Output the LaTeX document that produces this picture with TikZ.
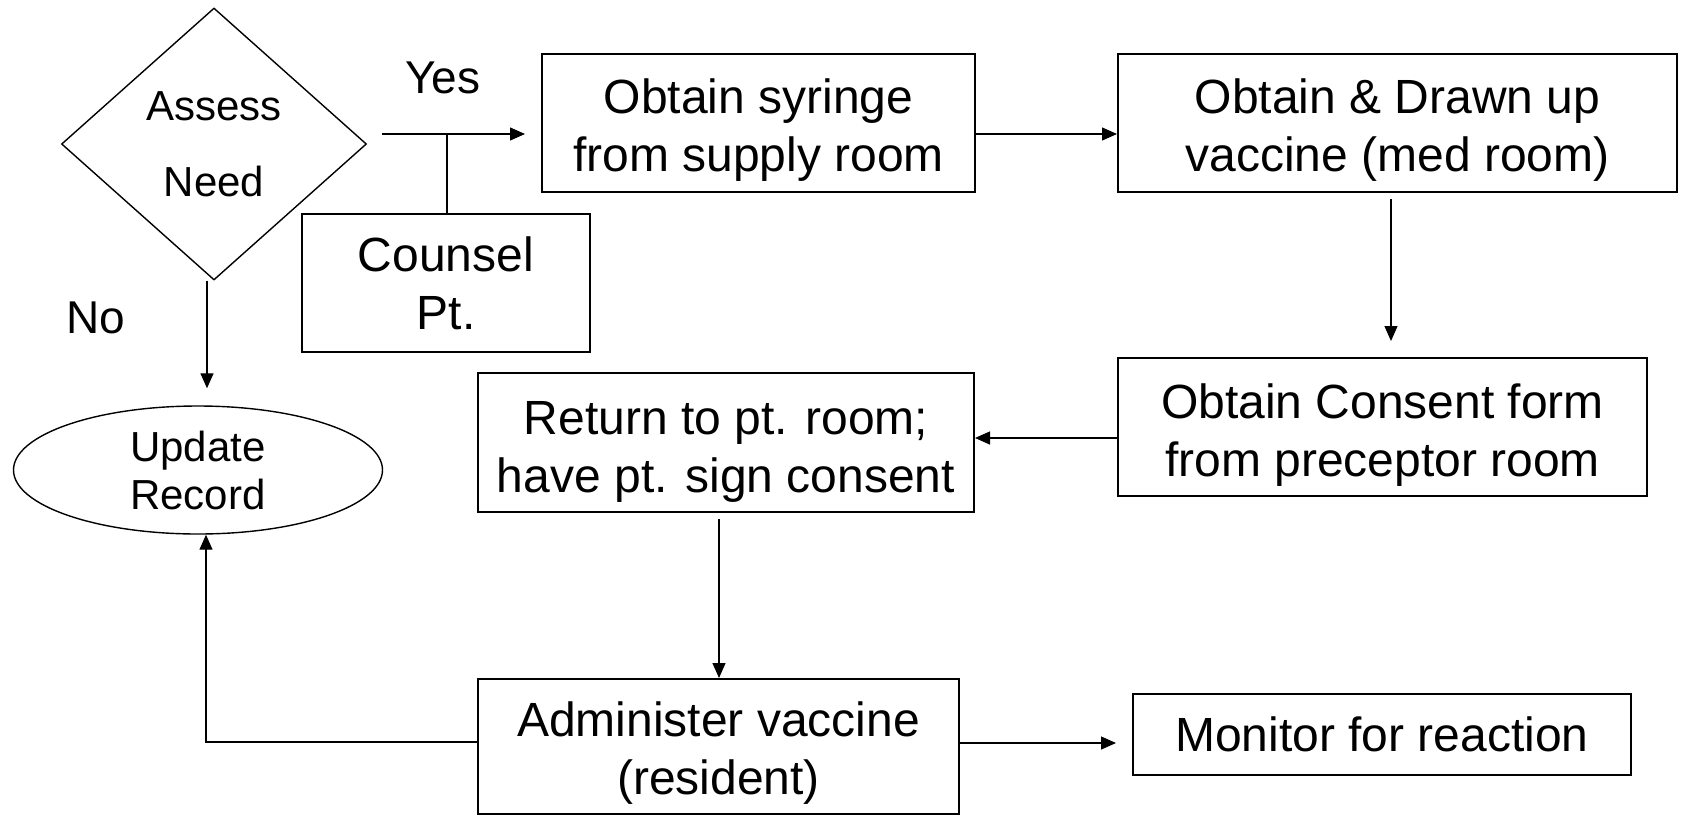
\documentclass[tikz,border=0pt]{standalone}
\usepackage{fontspec}
\setmainfont{Liberation Sans}
\usetikzlibrary{shapes.geometric,arrows.meta}

\begin{document}
\begin{tikzpicture}[x=0.5pt,y=-0.5pt,
  box/.style={draw,line width=1pt,rectangle,inner sep=0pt},
  txt/.style={inner sep=0pt,align=center,font=\fontsize{24}{29}\selectfont},
  decision/.style={draw,line width=0.7pt,diamond,inner sep=0pt,align=center,
    font=\fontsize{21}{38}\selectfont},
  terminal/.style={draw,line width=0.7pt,ellipse,inner sep=0pt,align=center,
    font=\fontsize{21}{24}\selectfont},
  lbl/.style={inner sep=0pt,font=\fontsize{23}{28}\selectfont},
  conn/.style={line width=0.65pt},
  arr/.style={conn,-{Triangle[length=7.5pt,width=6.5pt]}}
]
\useasboundingbox (0,0) rectangle (1681,815);

% process steps: frames
\node[decision,minimum width=152.5pt,minimum height=136pt] (dec) at (214,144) {Assess\\Need};
\node[box,minimum width=144pt,minimum height=69pt] (couns) at (446,283) {};
\node[box,minimum width=216.5pt,minimum height=69pt] (syr) at (758.5,123) {};
\node[box,minimum width=279.5pt,minimum height=69pt] (vac) at (1397.5,123) {};
\node[box,minimum width=264.5pt,minimum height=69pt] (cons) at (1382.5,427) {};
\node[box,minimum width=248pt,minimum height=69.5pt] (ret) at (726,442.5) {};
\node[box,minimum width=240.5pt,minimum height=67.5pt] (adm) at (718.5,746.5) {};
\node[box,minimum width=249pt,minimum height=40.5pt] (mon) at (1382,734.5) {};
\node[terminal,minimum width=184.5pt,minimum height=64pt] (upd) at (198,470) {Update\\Record};

% process steps: wording
\node[txt] (couns-t) at (couns.center) {Counsel\\Pt.};
\node[txt] (syr-t) at ([yshift=-3.5pt]syr.center) {Obtain syringe\\from supply room};
\node[txt] (vac-t) at ([yshift=-3.5pt]vac.center) {Obtain \& Drawn up\\vaccine (med room)};
\node[txt] (cons-t) at ([yshift=-4pt]cons.center) {Obtain Consent form\\from preceptor room};
\node[txt] (ret-t) at ([yshift=-4.5pt]ret.center) {Return to pt. room;\\have pt. sign consent};
\node[txt] (adm-t) at ([yshift=-3.5pt]adm.center) {Administer vaccine\\(resident)};
\node[txt] (mon-t) at (mon.center) {Monitor for reaction};

% branch labels
\node[lbl] (yes) at (443,78) {Yes};
\node[lbl] (no) at (96,318) {No};

% routing points
\coordinate (ys) at (382,134);
\coordinate (yj) at (447,134);
\coordinate (vc) at (1391,0);
\coordinate (cr) at (0,438);
\coordinate (ra) at (719,0);
\coordinate (au) at (206,742);
\coordinate (am) at (0,743);
\coordinate (du) at (207,0);

% connectors
\draw[arr,shorten >=8pt] (ys) -- (ys -| syr.west);
\draw[conn] (yj) -- (yj |- couns.north);
\draw[arr] (syr.east |- ys) -- (vac.west |- ys);
\draw[arr,shorten <=3pt,shorten >=8pt] (vc |- vac.south) -- (vc |- cons.north);
\draw[arr] (cons.west |- cr) -- (ret.east |- cr);
\draw[arr,shorten <=3pt] (ra |- ret.south) -- (ra |- adm.north);
\draw[arr] (adm.west |- au) -- (au) -- (au |- upd.south);
\draw[arr,shorten >=8pt] (adm.east |- am) -- (mon.west |- am);
\draw[arr,shorten >=8.5pt] (du |- dec.south) -- (du |- upd.north);
\end{tikzpicture}
\end{document}
